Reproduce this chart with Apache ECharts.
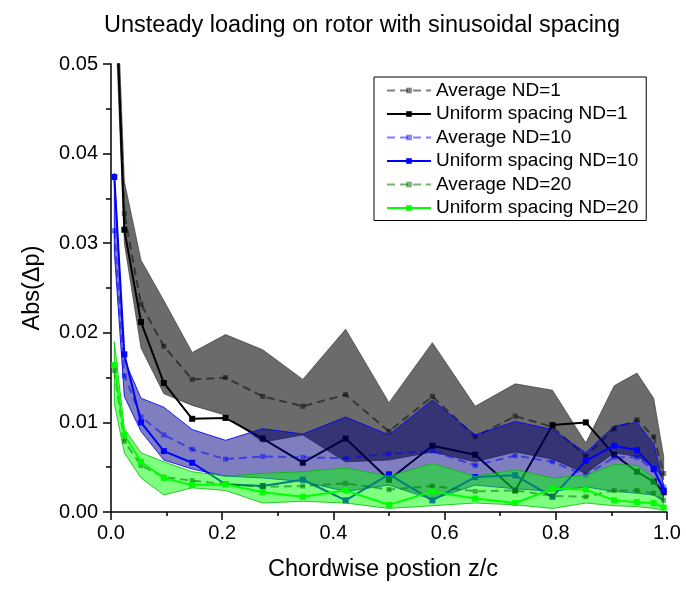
<!DOCTYPE html>
<html><head><meta charset="utf-8">
<script src="https://cdn.jsdelivr.net/npm/echarts@6/dist/echarts.min.js"></script>
<style>html,body{margin:0;padding:0;background:#fff}#c{width:686px;height:592px}</style>
</head><body><div id="c"></div>
<script>
// chordwise positions z/c
const zc = [0.006, 0.024, 0.054, 0.095, 0.146, 0.206, 0.273, 0.345, 0.422, 0.5, 0.578, 0.655, 0.727, 0.794, 0.854, 0.905, 0.946, 0.976, 0.994];
// ND = 1
const avgND1 = [0.062, 0.0333, 0.0232, 0.0185, 0.0148, 0.0150, 0.0129, 0.0118, 0.0131, 0.0090, 0.0129, 0.0084, 0.0107, 0.0095, 0.0062, 0.0093, 0.0103, 0.0084, 0.0043];
const uniND1 = [0.063, 0.0315, 0.0212, 0.0144, 0.0104, 0.0105, 0.0082, 0.0055, 0.0082, 0.0036, 0.0074, 0.0064, 0.0024, 0.0097, 0.0100, 0.0064, 0.0045, 0.0034, 0.0022];
const hiND1 = [0.066, 0.0369, 0.0281, 0.0236, 0.0178, 0.0198, 0.0181, 0.0148, 0.0204, 0.0122, 0.0189, 0.0118, 0.0143, 0.0136, 0.0077, 0.0141, 0.0155, 0.0127, 0.0062];
const loND1 = [0.058, 0.0300, 0.0183, 0.0132, 0.0119, 0.0108, 0.0078, 0.0086, 0.0056, 0.0058, 0.0067, 0.0056, 0.0067, 0.0059, 0.0043, 0.0066, 0.0062, 0.0051, 0.0036];
// ND = 10
const avgND10 = [0.0314, 0.0152, 0.0106, 0.0086, 0.0070, 0.0059, 0.0062, 0.0061, 0.0060, 0.0065, 0.0068, 0.0052, 0.0063, 0.0056, 0.0041, 0.0061, 0.0061, 0.0047, 0.0028];
const uniND10 = [0.0374, 0.0176, 0.0100, 0.0068, 0.0055, 0.0031, 0.0029, 0.0036, 0.0013, 0.0042, 0.0013, 0.0039, 0.0041, 0.0017, 0.0057, 0.0074, 0.0069, 0.0048, 0.0024];
const hiND10 = [0.0378, 0.0170, 0.0127, 0.0117, 0.0092, 0.0080, 0.0093, 0.0087, 0.0106, 0.0086, 0.0125, 0.0086, 0.0101, 0.0092, 0.0066, 0.0096, 0.0100, 0.0076, 0.0030];
const loND10 = [0.0290, 0.0129, 0.0090, 0.0058, 0.0048, 0.0040, 0.0038, 0.0034, 0.0023, 0.0030, 0.0014, 0.0030, 0.0026, 0.0023, 0.0028, 0.0023, 0.0021, 0.0019, 0.0012];
// ND = 20
const avgND20 = [0.0158, 0.0079, 0.0052, 0.0039, 0.0035, 0.0031, 0.0028, 0.0029, 0.0032, 0.0025, 0.0029, 0.0023, 0.0024, 0.0018, 0.0017, 0.0024, 0.0024, 0.0021, 0.0013];
const uniND20 = [0.0164, 0.0086, 0.0056, 0.0038, 0.0030, 0.0031, 0.0022, 0.0017, 0.0024, 0.0008, 0.0023, 0.0015, 0.0010, 0.0026, 0.0025, 0.0013, 0.0011, 0.0010, 0.0005];
const hiND20 = [0.0190, 0.0093, 0.0066, 0.0056, 0.0045, 0.0040, 0.0043, 0.0045, 0.0049, 0.0040, 0.0054, 0.0040, 0.0047, 0.0038, 0.0041, 0.0053, 0.0052, 0.0038, 0.0014];
const loND20 = [0.0121, 0.0066, 0.0038, 0.0019, 0.0027, 0.0024, 0.0010, 0.0012, 0.0010, 0.0004, 0.0007, 0.0010, 0.0008, 0.0004, 0.0010, 0.0007, 0.0006, 0.0004, 0.0002];

const legendNames = ['Average ND=1', 'Uniform spacing ND=1', 'Average ND=10', 'Uniform spacing ND=10', 'Average ND=20', 'Uniform spacing ND=20'];
const FONT = '"Liberation Sans", Arial, Helvetica, sans-serif';

function pts(ys) { return zc.map((x, i) => [x, ys[i]]); }
function band(key, lo, hi, edge, fill, z) {
  return {
    name: key, type: 'custom', silent: true, z: z, clip: true,
    data: zc.map((x, i) => [x, lo[i], hi[i]]),
    encode: { x: 0, y: [1, 2] },
    renderItem: function (params, api) {
      if (params.dataIndex !== 0) return null;
      const top = zc.map((x, i) => api.coord([x, hi[i]]));
      const bot = zc.map((x, i) => api.coord([x, lo[i]])).reverse();
      const cs = params.coordSys;
      return {
        type: 'group',
        clipPath: { type: 'rect', shape: { x: cs.x, y: cs.y, width: cs.width, height: cs.height } },
        children: [{
          type: 'polygon',
          shape: { points: top.concat(bot) },
          style: { fill: fill, stroke: edge, lineWidth: 1 }
        }]
      };
    }
  };
}
function avgLine(name, ys, color, z) {
  return { name: name, type: 'line', data: pts(ys), symbol: 'rect', symbolSize: 5, showAllSymbol: true, z: z,
    lineStyle: { color: color, width: 2, type: [8, 5] }, itemStyle: { color: color }, emphasis: { disabled: true } };
}
function uniLine(name, ys, color, z) {
  return { name: name, type: 'line', data: pts(ys), symbol: 'rect', symbolSize: 6, showAllSymbol: true, z: z,
    lineStyle: { color: color, width: 2 }, itemStyle: { color: color }, emphasis: { disabled: true } };
}

const chart = echarts.init(document.getElementById('c'), null, { renderer: 'canvas' });
chart.setOption({
  animation: false,
  backgroundColor: '#fff',
  title: {
    text: 'Unsteady loading on rotor with sinusoidal spacing',
    left: 99, top: 9,
    textStyle: { fontFamily: FONT, fontSize: 23.5, fontWeight: 'normal', color: '#000' }
  },
  legend: {
    data: legendNames,
    left: 374, top: 77, z: 20,
    orient: 'vertical',
    itemWidth: 44, itemHeight: 7, itemGap: 4.5,
    padding: [4, 8, 3, 12],
    borderColor: '#000', borderWidth: 1, backgroundColor: '#fff',
    textStyle: { fontFamily: FONT, fontSize: 19, color: '#000' }
  },
  grid: { left: 111, right: 19, top: 64, bottom: 80, containLabel: false },
  xAxis: {
    type: 'value', min: 0, max: 1, interval: 0.2,
    name: 'Chordwise postion z/c', nameLocation: 'middle', nameGap: 46,
    nameTextStyle: { fontFamily: FONT, fontSize: 23.5, color: '#000', padding: [0, 12, 0, 0] },
    axisLine: { show: true, lineStyle: { color: '#000', width: 1.5 } },
    axisTick: { show: true, length: 8, lineStyle: { color: '#000', width: 1.5 } },
    minorTick: { show: true, splitNumber: 2, length: 4, lineStyle: { color: '#000', width: 1.5 } },
    axisLabel: { formatter: v => v.toFixed(1), fontFamily: FONT, fontSize: 20, color: '#000', margin: 11 },
    splitLine: { show: false }
  },
  yAxis: {
    type: 'value', min: 0, max: 0.05, interval: 0.01,
    name: 'Abs(Δp)', nameLocation: 'middle', nameGap: 66,
    nameTextStyle: { fontFamily: FONT, fontSize: 23.5, color: '#000' },
    axisLine: { show: true, lineStyle: { color: '#000', width: 1.5 } },
    axisTick: { show: true, length: 8, lineStyle: { color: '#000', width: 1.5 } },
    minorTick: { show: true, splitNumber: 2, length: 5, lineStyle: { color: '#000', width: 1.5 } },
    axisLabel: { formatter: v => v.toFixed(2), fontFamily: FONT, fontSize: 20, color: '#000', margin: 13 },
    splitLine: { show: false }
  },
  series: [
    band('b1', loND1, hiND1, 'rgba(40,40,40,0.6)', 'rgba(0,0,0,0.58)', 1),
    avgLine('Average ND=1', avgND1, 'rgba(0,0,0,0.5)', 2),
    uniLine('Uniform spacing ND=1', uniND1, '#000000', 2),
    band('b10', loND10, hiND10, 'rgba(0,0,255,0.85)', 'rgba(0,0,128,0.5)', 3),
    avgLine('Average ND=10', avgND10, 'rgba(0,0,255,0.5)', 4),
    uniLine('Uniform spacing ND=10', uniND10, '#0000ff', 4),
    band('b20', loND20, hiND20, 'rgba(0,190,0,0.8)', 'rgba(0,255,0,0.5)', 5),
    avgLine('Average ND=20', avgND20, 'rgba(0,120,0,0.55)', 6),
    uniLine('Uniform spacing ND=20', uniND20, '#00ff00', 6)
  ]
});
</script>
</body></html>
